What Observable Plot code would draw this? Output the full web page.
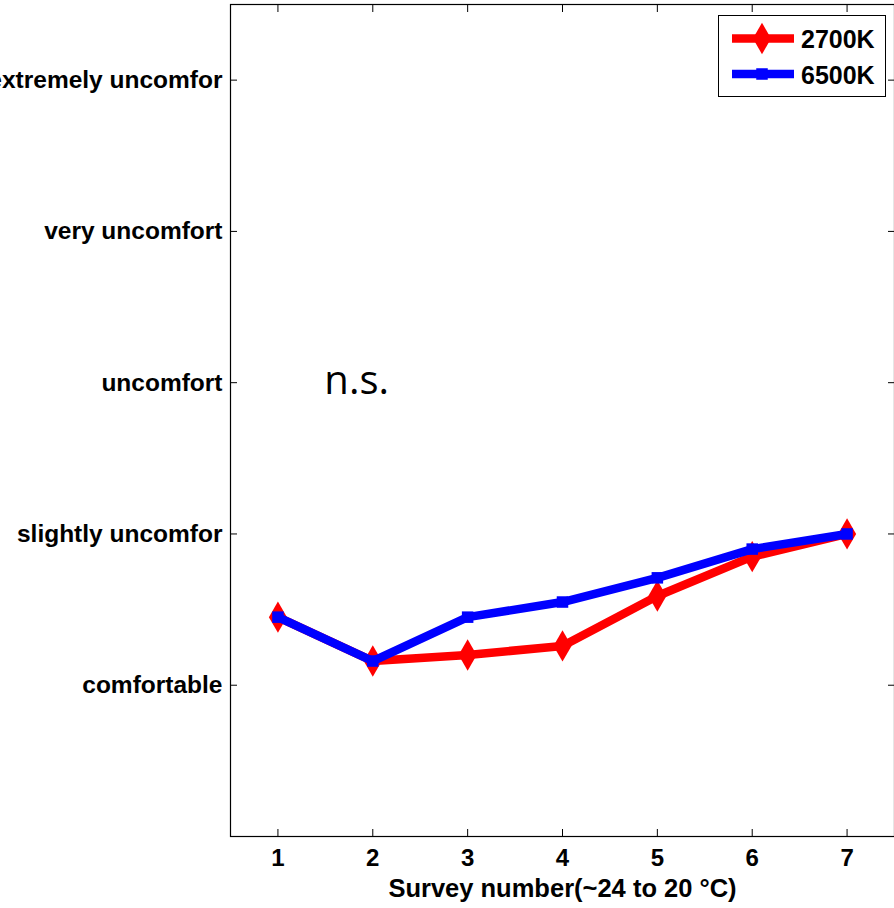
<!DOCTYPE html>
<html><head><meta charset="utf-8">
<script src="https://cdn.jsdelivr.net/npm/d3@7"></script>
<script src="https://cdn.jsdelivr.net/npm/@observablehq/plot@0.6"></script>
<style>
body{margin:0;background:#fff;}
#wrap{position:relative;width:894px;height:908px;overflow:hidden;}
#legend{position:absolute;left:718px;top:15px;width:166px;height:80px;border:1.5px solid #000;background:#fff;}
</style></head><body><div id="wrap"></div>
<script>
const surveys = [1, 2, 3, 4, 5, 6, 7];
const comfort2700 = [1.45, 1.16, 1.20, 1.26, 1.59, 1.85, 2.00];
const comfort6500 = [1.45, 1.16, 1.45, 1.55, 1.71, 1.90, 2.00];
const yTickValues = [1, 2, 3, 4, 5];
const yTickLabels = ["comfortable", "slightly uncomfor", "uncomfort", "very uncomfort", "extremely uncomfor"];
const seriesNames = ["2700K", "6500K"];
const seriesColors = ["#ff0000", "#0000ff"];
const seriesSymbols = ["diamond", "square"];
const xLabel = "Survey number(~24 to 20 °C)";
const annotations = [{x: 1.83, y: 3.01, text: "n.s."}];

const d2700 = surveys.map((s, i) => ({survey: s, value: comfort2700[i]}));
const d6500 = surveys.map((s, i) => ({survey: s, value: comfort6500[i]}));
const font = "'Liberation Sans', Arial, Helvetica, sans-serif";
const blank = () => "";

const chart = Plot.plot({
  width: 894,
  height: 908,
  marginLeft: 230,
  marginRight: 0,
  marginTop: 4,
  marginBottom: 72,
  style: {fontFamily: font, background: "#fff", color: "#000"},
  x: {domain: [0.5, 7.5]},
  y: {domain: [0, 5.5]},
  marks: [
    Plot.frame({stroke: "#000", strokeWidth: 1.2}),
    Plot.axisY(yTickValues, {anchor: "left", tickSize: -7, tickFormat: blank, label: null}),
    Plot.axisY(yTickValues, {anchor: "right", tickSize: -7, tickFormat: blank, label: null}),
    Plot.axisX(surveys, {anchor: "top", tickSize: -7, tickFormat: blank, label: null}),
    Plot.axisX(surveys, {anchor: "bottom", tickSize: -7, tickFormat: blank, label: null}),
    Plot.axisY(yTickValues, {anchor: "left", tickSize: 0, tickPadding: 8, fontSize: 24.5, fontWeight: "bold",
      tickFormat: d => yTickLabels[yTickValues.indexOf(d)], label: null}),
    Plot.axisX(surveys, {anchor: "bottom", tickSize: 0, tickPadding: 12, fontSize: 24, fontWeight: "bold", label: null}),
    Plot.axisX(surveys, {anchor: "bottom", tickSize: 0, tickFormat: blank, fontSize: 25.5, fontWeight: "bold",
      label: xLabel, labelAnchor: "center", labelArrow: "none", labelOffset: 60}),
    Plot.line(d2700, {x: "survey", y: "value", stroke: seriesColors[0], strokeWidth: 8.5}),
    Plot.dot(d2700, {x: "survey", y: "value", symbol: seriesSymbols[0], r: 9.5, fill: seriesColors[0], stroke: "none"}),
    Plot.line(d6500, {x: "survey", y: "value", stroke: seriesColors[1], strokeWidth: 8.5}),
    Plot.dot(d6500, {x: "survey", y: "value", symbol: seriesSymbols[1], r: 6.5, fill: seriesColors[1], stroke: "none"}),
    Plot.text(annotations, {x: "x", y: "y", text: "text", fontSize: 40, fontFamily: "'Open Sans', 'Noto Sans', sans-serif", fill: "#000"})
  ]
});
const wrap = document.getElementById("wrap");
wrap.appendChild(chart);

// legend
const leg = document.createElement("div");
leg.id = "legend";
wrap.appendChild(leg);
const svg = d3.select(leg).append("svg").attr("width", 166).attr("height", 80);
const symMap = {diamond: d3.symbolDiamond, square: d3.symbolSquare};
const rs = [9.5, 6.5];
seriesNames.forEach((name, i) => {
  const cy = [22.5, 58][i];
  const g = svg.append("g");
  g.append("line").attr("x1", 13).attr("x2", 75).attr("y1", cy).attr("y2", cy)
    .attr("stroke", seriesColors[i]).attr("stroke-width", 8.5);
  g.append("path").attr("transform", `translate(43,${cy})`)
    .attr("d", d3.symbol(symMap[seriesSymbols[i]], rs[i] * rs[i] * Math.PI)())
    .attr("fill", seriesColors[i]);
  g.append("text").attr("x", 82).attr("y", cy + 1).attr("dy", "0.35em")
    .attr("font-family", font).attr("font-weight", "bold").attr("font-size", 25)
    .text(name);
});
</script>
</body></html>
